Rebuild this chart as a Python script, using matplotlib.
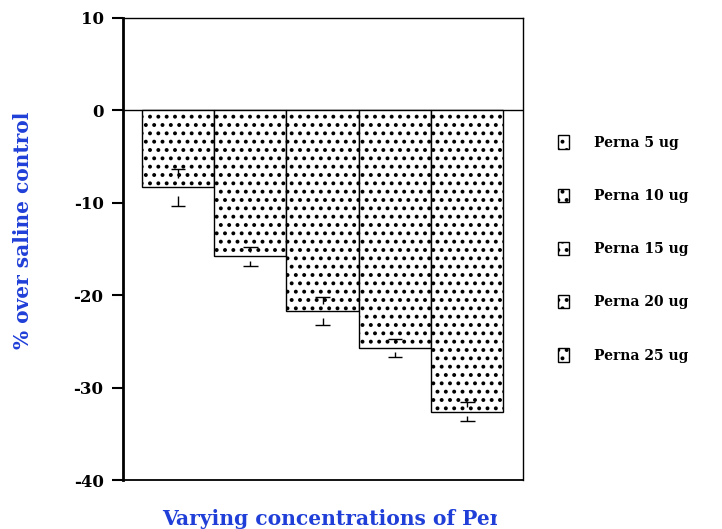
import numpy as np
import matplotlib
matplotlib.use('Agg')
import matplotlib.pyplot as plt
from matplotlib.patches import Patch
from matplotlib.transforms import Bbox, TransformedBbox

labels = ['Perna 5 ug', 'Perna 10 ug', 'Perna 15 ug', 'Perna 20 ug', 'Perna 25 ug']
values = [-8.3, -15.8, -21.7, -25.7, -32.6]
errors = [2.0, 1.0, 1.5, 1.0, 1.0]
yticks = [10, 0, -10, -20, -30, -40]

plt.rcParams['font.family'] = 'DejaVu Serif'
plt.rcParams['font.weight'] = 'bold'
plt.rcParams['hatch.linewidth'] = 1.6

fig = plt.figure(figsize=(7.22, 5.29), dpi=100)
ax = fig.add_axes([0.1704, 0.0926, 0.554, 0.8734])

x = np.arange(len(values))
for i in range(len(values)):
    ax.bar(x[i], values[i], width=1.0, color='white', edgecolor='black',
           linewidth=1.0, hatch='..', label=labels[i], zorder=2)

# error caps with short stems, like the original
vals = np.array(values)
errs = np.array(errors)
for i in range(len(values)):
    stem = 0.5 * errs[i]
    top = vals[i] + errs[i]
    bot = vals[i] - errs[i]
    ax.hlines([top, bot], x[i] - 0.1, x[i] + 0.1, color='black', lw=1.0, zorder=3)
    ax.vlines(x[i], top - stem, top, color='black', lw=1.0, zorder=3)
    ax.vlines(x[i], bot, bot + stem, color='black', lw=1.0, zorder=3)

ax.axhline(0, color='black', lw=1.0, zorder=1)
ax.set_xlim(-0.76, 4.77)
ax.set_ylim(-40, 10)
ax.set_yticks(yticks)
ax.set_yticklabels([str(t) for t in yticks], fontsize=12, fontweight='bold')
ax.set_xticks([])
ax.tick_params(axis='y', direction='out', length=8, width=1.5, pad=6)
ax.spines['left'].set_linewidth(2.0)
ax.spines['bottom'].set_linewidth(1.3)
ax.spines['top'].set_linewidth(1.0)
ax.spines['right'].set_linewidth(1.0)

fig.text(23 / 722, 1 - 230 / 529, '% over saline control', color='#1f3fd8',
         fontsize=14.5, fontweight='bold', rotation=90, ha='center', va='center')

xl = fig.text(162 / 722, 1 - 519 / 529, 'Varying concentrations of Perna',
              color='#1f3fd8', fontsize=14.6, fontweight='bold',
              ha='left', va='center')
xl.set_clip_box(TransformedBbox(Bbox.from_extents(0, 0, 497 / 722, 1), fig.transFigure))
xl.set_clip_on(True)

handles = [Patch(facecolor='white', edgecolor='black', hatch='..', lw=1.0)
           for _ in labels]
fig.legend(handles, labels, loc='upper left', bbox_to_anchor=(0.755, 0.768),
           frameon=False, fontsize=10, handlelength=0.85, handleheight=1.1,
           handletextpad=1.75, labelspacing=2.8)

fig.savefig('out.png', dpi=100)
